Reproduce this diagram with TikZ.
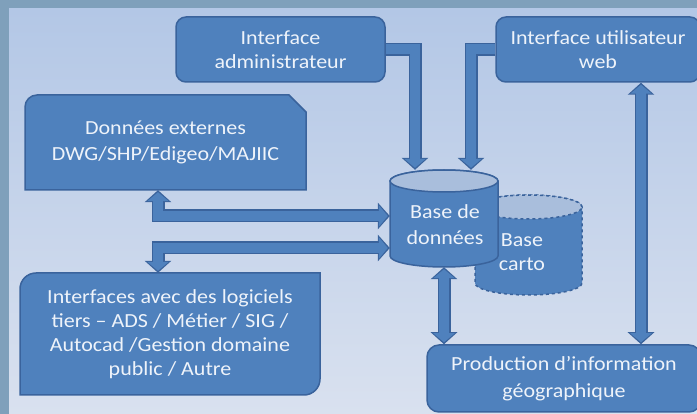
\documentclass[tikz,border=0pt]{standalone}
\usepackage{fontspec}
\setmainfont{Carlito}[FakeStretch=1.1]
\usetikzlibrary{arrows.meta}
\definecolor{framecol}{HTML}{7FA0BB}
\definecolor{paneltop}{HTML}{B3C7E6}
\definecolor{panelbot}{HTML}{D9E1EF}
\definecolor{boxfill}{HTML}{4F81BD}
\definecolor{boxline}{HTML}{3A639C}
\definecolor{boxtext}{HTML}{EEF3FA}
\definecolor{dbtop}{HTML}{A9BEDC}
\tikzset{
  tipout/.tip={Triangle[width=26pt,length=12pt]},
  tipin/.tip={Triangle[width=21pt,length=9pt]},
  shapefill/.style={fill=boxfill, draw=boxline, line width=1.5pt},
  boxtxt/.style={text=boxtext, align=center, inner sep=0pt,
    font=\fontsize{20}{24}\selectfont},
  box/.style={shapefill, boxtxt},
  arrunder/.style={draw=boxline, line width=13pt, line join=miter},
  arrover/.style={draw=boxfill, line width=10pt, line join=miter},
}
\begin{document}
\begin{tikzpicture}[x=1pt,y=1pt]
\path[use as bounding box] (0,0) rectangle (697,-414);
% background
\fill[framecol] (0,0) rectangle (697,-414);
\shade[top color=paneltop, bottom color=panelbot] (9,-9) rectangle (697,-414);

% boxes
\node[box, rounded corners=10pt, minimum width=209pt, minimum height=65pt]
  (admin) at (280.5,-49.5) {Interface\\administrateur};
\node[box, rounded corners=10pt, minimum width=204pt, minimum height=65pt]
  (web) at (598,-49.5) {Interface utilisateur\\web};

\filldraw[shapefill] (25,-190) -- (25,-107) arc[start angle=180,end angle=90,radius=12]
  -- (289,-95) -- (306,-112) -- (306,-190) -- cycle;
\node[boxtxt, minimum width=281pt, minimum height=95pt, font=\fontsize{20}{26}\selectfont]
  (donnees) at (165.5,-142.5) {Données externes\\DWG/SHP/Edigeo/MAJIIC};

\filldraw[shapefill] (20,-395) -- (20,-289) arc[start angle=180,end angle=90,radius=16]
  -- (320,-273) -- (320,-379) arc[start angle=0,end angle=-90,radius=16] -- cycle;
\node[boxtxt, minimum width=300pt, minimum height=122pt]
  (interfaces) at (170,-334) {Interfaces avec des logiciels\\tiers -- ADS / Métier / SIG /\\Autocad /Gestion domaine\\public / Autre};

\node[box, rounded corners=12pt, minimum width=274pt, minimum height=67pt,
  font=\fontsize{20}{27}\selectfont]
  (production) at (564,-378.5) {Production d’information\\géographique};

% Base carto (behind)
\filldraw[shapefill, dashed] (475,-207) -- (475,-283)
  arc[start angle=180,end angle=360,x radius=53.5,y radius=12]
  -- (582,-207) arc[start angle=0,end angle=180,x radius=53.5,y radius=12] -- cycle;
\filldraw[fill=dbtop, draw=boxline, line width=1.5pt, dashed]
  (528.5,-207) ellipse[x radius=53.5, y radius=12];
\node[boxtxt] (carto) at (522,-252) {Base\\carto};

% Base de donnees
\filldraw[shapefill] (390,-181) -- (390,-256)
  arc[start angle=180,end angle=360,x radius=54,y radius=11]
  -- (498,-181) arc[start angle=0,end angle=180,x radius=54,y radius=11] -- cycle;
\filldraw[fill=dbtop, draw=boxline, line width=1.5pt]
  (444,-181) ellipse[x radius=54, y radius=11];
\node[minimum width=108pt, minimum height=97pt, inner sep=0pt] (db) at (444,-218.5) {};
\node[boxtxt, font=\fontsize{20}{26}\selectfont] (dblabel) at (445,-225) {Base de\\données};

% connectors: dark underlay
\draw[arrunder,-tipout] (admin.east) -| ([xshift=-29pt]db.north);
\draw[arrunder,-tipout] (web.west) -| ([xshift=27pt]db.north);
\draw[arrunder,tipout-tipout] ([xshift=-7.5pt]donnees.south) |- ([yshift=2.5pt]db.west);
\draw[arrunder,tipout-tipout] ([yshift=-29.5pt]db.west) -| ([xshift=-12pt]interfaces.north);
\draw[arrunder,tipout-tipout] (db.south) -- (db.south |- production.north);
\draw[arrunder,tipout-tipout] ([xshift=43pt]web.south) -- ([xshift=43pt]web.south |- production.north);
% connectors: blue overlay
\draw[arrover,-tipin,shorten >=2pt] (admin.east) -| ([xshift=-29pt]db.north);
\draw[arrover,-tipin,shorten >=2pt] (web.west) -| ([xshift=27pt]db.north);
\draw[arrover,tipin-tipin,shorten >=2pt,shorten <=2pt] ([xshift=-7.5pt]donnees.south) |- ([yshift=2.5pt]db.west);
\draw[arrover,tipin-tipin,shorten >=2pt,shorten <=2pt] ([yshift=-29.5pt]db.west) -| ([xshift=-12pt]interfaces.north);
\draw[arrover,tipin-tipin,shorten >=2pt,shorten <=2pt] (db.south) -- (db.south |- production.north);
\draw[arrover,tipin-tipin,shorten >=2pt,shorten <=2pt] ([xshift=43pt]web.south) -- ([xshift=43pt]web.south |- production.north);
\end{tikzpicture}
\end{document}
